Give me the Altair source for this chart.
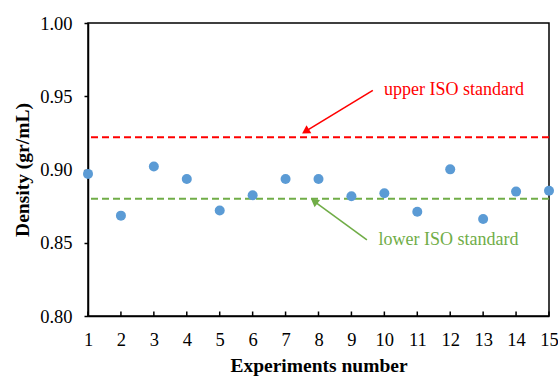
import altair as alt
import pandas as pd

experiments = list(range(1, 16))
density = [0.897, 0.8685, 0.902, 0.8935, 0.872, 0.8824, 0.8935, 0.8935,
           0.8817, 0.8838, 0.8712, 0.9001, 0.8662, 0.8849, 0.8855]
y_ticks = [0.80, 0.85, 0.90, 0.95, 1.00]

upper_iso = 0.922
lower_iso = 0.880

# annotation labels and arrow anchors (data coordinates)
ann_text = ["upper ISO standard", "lower ISO standard"]
ann_x = [9.99, 9.82]
ann_y = [0.954, 0.852]
ann_color = ["#FF0000", "#70AD47"]
arrow_x = [9.65, 9.47]
arrow_y = [0.954, 0.852]
arrow_x2 = [7.64, 7.90]
arrow_y2 = [0.9265, 0.8778]
arrow_angle = [238.4, 306.7]

FONT = "Liberation Serif"

pts = pd.DataFrame({"x": experiments, "y": density})
lines = pd.DataFrame({"y": [upper_iso, lower_iso], "c": ["#FF0000", "#70AD47"]})
ann = pd.DataFrame({"t": ann_text, "x": ann_x, "y": ann_y, "c": ann_color})
arr = pd.DataFrame({"x": arrow_x, "y": arrow_y, "x2": arrow_x2, "y2": arrow_y2,
                    "a": arrow_angle, "c": ann_color})
xt = pd.DataFrame({"x": experiments})

xs = alt.Scale(domain=[1, 15], nice=False, zero=False)
ys = alt.Scale(domain=[0.8, 1.0], nice=False, zero=False)

axis_style = dict(
    grid=False, domainColor="black", domainWidth=1.5, tickColor="black", tickWidth=1.5,
    labelFont=FONT, labelFontSize=18.5, labelColor="black",
    titleFont=FONT, titleFontSize=19.5, titleFontWeight="bold", titleColor="black",
    labelOverlap=False, labelFlush=False,
)

points = alt.Chart(pts).mark_circle(size=100, opacity=1, color="#5B9BD5").encode(
    x=alt.X("x:Q", scale=xs, title="Experiments number",
            axis=alt.Axis(values=experiments, tickCount=15, format="d", ticks=False,
                          tickSize=0, labelPadding=14, titlePadding=8, **axis_style)),
    y=alt.Y("y:Q", scale=ys, title="Density (gr/mL)",
            axis=alt.Axis(values=y_ticks, tickCount=5, format=".2f", tickSize=4,
                          labelPadding=12, titlePadding=7, **axis_style)),
)

# inward tick marks on the x axis
x_ticks = alt.Chart(xt).mark_rule(color="black", strokeWidth=1.5).encode(
    x=alt.X("x:Q", scale=xs),
    y=alt.value(293), y2=alt.value(288.5),
)

hlines = alt.Chart(lines).mark_rule(strokeDash=[7, 4], strokeWidth=2).encode(
    y=alt.Y("y:Q", scale=ys),
    color=alt.Color("c:N", scale=None),
)

arrow_lines = alt.Chart(arr).mark_rule(strokeWidth=1.6).encode(
    x=alt.X("x:Q", scale=xs), y=alt.Y("y:Q", scale=ys),
    x2="x2:Q", y2="y2:Q",
    color=alt.Color("c:N", scale=None),
)

arrow_heads = alt.Chart(arr).mark_point(shape="triangle", filled=True, opacity=1, size=85).encode(
    x=alt.X("x2:Q", scale=xs), y=alt.Y("y2:Q", scale=ys),
    angle=alt.Angle("a:Q", scale=None),
    color=alt.Color("c:N", scale=None),
)

labels = alt.Chart(ann).mark_text(align="left", baseline="middle", font=FONT, fontSize=18).encode(
    x=alt.X("x:Q", scale=xs), y=alt.Y("y:Q", scale=ys),
    text="t:N",
    color=alt.Color("c:N", scale=None),
)

chart = alt.layer(hlines, x_ticks, arrow_lines, arrow_heads, labels, points).properties(
    width=461, height=293,
    autosize=alt.AutoSizeParams(type="none"),
    padding={"left": 88, "top": 23, "right": 9, "bottom": 60},
    background="white",
).configure_view(
    stroke="black", strokeWidth=1.5,
).configure_axis(**axis_style)

chart.save("out.html", embed_options={"renderer": "svg", "actions": False})
